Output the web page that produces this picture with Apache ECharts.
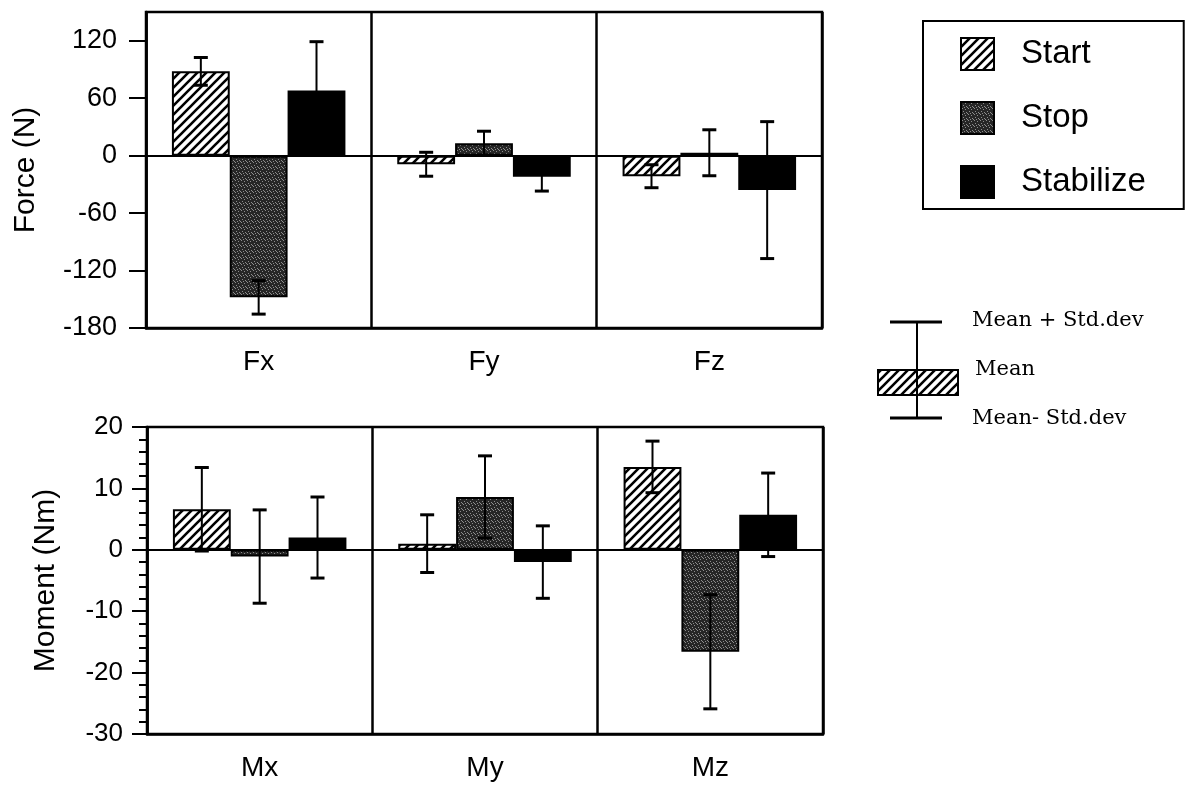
<!DOCTYPE html>
<html>
<head>
<meta charset="utf-8">
<script src="https://cdn.jsdelivr.net/npm/echarts@6/dist/echarts.min.js"></script>
<style>
  html, body { margin: 0; padding: 0; background: #fff; }
  #chart { width: 1193px; height: 793px; }
</style>
</head>
<body>
<div id="chart"></div>
<script>
// Categories, conditions and tick values
const forceCategories = ['Fx', 'Fy', 'Fz'];
const momentCategories = ['Mx', 'My', 'Mz'];
const conditions = ['Start', 'Stop', 'Stabilize'];
const forceTicks = [-180, -120, -60, 0, 60, 120];
const momentTicks = [-30, -20, -10, 0, 10, 20];

// Force components (N): mean and standard deviation per condition
const forceStartMean = [88, -9, -21.5];
const forceStartSd = [14.5, 12.5, 12];
const forceStopMean = [-148, 13, 3];
const forceStopSd = [17.5, 12.5, 24];
const forceStabilizeMean = [68, -22, -36];
const forceStabilizeSd = [51, 15, 71.5];

// Moment components (Nm): mean and standard deviation per condition
const momentStartMean = [6.6, 1, 13.5];
const momentStartSd = [6.8, 4.7, 4.2];
const momentStopMean = [-1.1, 8.6, -16.6];
const momentStopSd = [7.6, 6.7, 9.3];
const momentStabilizeMean = [2, -2, 5.7];
const momentStabilizeSd = [6.6, 5.9, 6.8];

const SANS = '"Liberation Sans", Arial, Helvetica, sans-serif';
const SERIF = '"DejaVu Serif", "Liberation Serif", serif';
const GAP = 0.23; // fraction of each category band left empty

// Diagonal hatch fill used for the Start condition
function hatchCanvas() {
  const s = 9;
  const c = document.createElement('canvas');
  c.width = s; c.height = s;
  const g = c.getContext('2d');
  g.fillStyle = '#fff';
  g.fillRect(0, 0, s, s);
  g.strokeStyle = '#000';
  g.lineWidth = 2.6;
  g.beginPath();
  g.moveTo(-2, s + 2); g.lineTo(s + 2, -2);
  g.moveTo(-2, 2); g.lineTo(2, -2);
  g.moveTo(s - 2, s + 2); g.lineTo(s + 2, s - 2);
  g.stroke();
  return c;
}

// Dark stippled fill used for the Stop condition
function stippleCanvas() {
  const s = 6;
  const c = document.createElement('canvas');
  c.width = s; c.height = s;
  const g = c.getContext('2d');
  g.fillStyle = '#262626';
  g.fillRect(0, 0, s, s);
  g.fillStyle = '#8c8c8c';
  [[1, 0], [4, 1], [2, 3], [5, 4], [0, 5], [3, 5]].forEach(function (p) {
    g.fillRect(p[0], p[1], 1, 1);
  });
  return c;
}

const hatchFill = { image: hatchCanvas(), repeat: 'repeat' };
const stippleFill = { image: stippleCanvas(), repeat: 'repeat' };
const fills = [hatchFill, stippleFill, '#000'];

function barSeries(name, means, axisIdx, slot, withZeroLine) {
  const s = {
    name: name,
    type: 'bar',
    xAxisIndex: axisIdx,
    yAxisIndex: axisIdx,
    data: means,
    barGap: '0%',
    barCategoryGap: (GAP * 100) + '%',
    itemStyle: { color: fills[slot], borderColor: '#000', borderWidth: 2 },
    emphasis: { disabled: true },
    silent: true,
    z: 2
  };
  if (withZeroLine) {
    s.markLine = {
      silent: true,
      symbol: ['none', 'none'],
      label: { show: false },
      lineStyle: { color: '#000', width: 2, type: 'solid' },
      data: [{ yAxis: 0 }]
    };
  }
  return s;
}

// I-beam error bars (mean +/- sd) centred on each bar of the group
function errorSeries(means, sds, axisIdx, slot) {
  return {
    type: 'custom',
    xAxisIndex: axisIdx,
    yAxisIndex: axisIdx,
    silent: true,
    z: 6,
    data: means.map(function (m, i) { return [i, m, sds[i]]; }),
    encode: { x: 0, y: 1 },
    renderItem: function (params, api) {
      const cat = api.value(0);
      const mean = api.value(1);
      const sd = api.value(2);
      const band = api.size([1, 0])[0];
      const bw = band * (1 - GAP) / 3;
      const x = api.coord([cat, 0])[0] + (slot - 1) * bw;
      const yHi = api.coord([cat, mean + sd])[1];
      const yLo = api.coord([cat, mean - sd])[1];
      const cap = 7;
      const stroke = { stroke: '#000', lineWidth: 2 };
      const capStroke = { stroke: '#000', lineWidth: 3 };
      return {
        type: 'group',
        children: [
          { type: 'line', shape: { x1: x, y1: yHi, x2: x, y2: yLo }, style: stroke },
          { type: 'line', shape: { x1: x - cap, y1: yHi, x2: x + cap, y2: yHi }, style: capStroke },
          { type: 'line', shape: { x1: x - cap, y1: yLo, x2: x + cap, y2: yLo }, style: capStroke }
        ]
      };
    }
  };
}

function categoryAxis(gridIndex, cats) {
  return {
    type: 'category',
    gridIndex: gridIndex,
    data: cats,
    position: 'bottom',
    axisLine: { show: true, onZero: false, lineStyle: { color: '#000', width: 2.5 } },
    axisTick: { show: false },
    axisLabel: { fontSize: 28, color: '#000', fontFamily: SANS, margin: 20 },
    splitLine: { show: true, lineStyle: { color: '#000', width: 2.5 } }
  };
}

const chart = echarts.init(document.getElementById('chart'), null, { renderer: 'canvas' });

chart.setOption({
  backgroundColor: '#fff',
  animation: false,
  grid: [
    { left: 146, top: 12, width: 676, height: 316, show: true, borderColor: '#000', borderWidth: 2.5 },
    { left: 147, top: 427, width: 676, height: 307, show: true, borderColor: '#000', borderWidth: 2.5 }
  ],
  xAxis: [categoryAxis(0, forceCategories), categoryAxis(1, momentCategories)],
  yAxis: [
    {
      type: 'value', gridIndex: 0, min: -180, max: 150,
      name: 'Force (N)', nameLocation: 'middle', nameGap: 105,
      nameTextStyle: { fontSize: 30, color: '#000', fontFamily: SANS },
      axisLine: { show: true, lineStyle: { color: '#000', width: 2.5 } },
      axisTick: { show: true, length: 17, customValues: forceTicks, lineStyle: { color: '#000', width: 2 } },
      axisLabel: { customValues: forceTicks, fontSize: 27, color: '#000', fontFamily: SANS, margin: 29 },
      splitLine: { show: false }
    },
    {
      type: 'value', gridIndex: 1, min: -30, max: 20, interval: 10,
      name: 'Moment (Nm)', nameLocation: 'middle', nameGap: 86,
      nameTextStyle: { fontSize: 30, color: '#000', fontFamily: SANS },
      axisLine: { show: true, lineStyle: { color: '#000', width: 2.5 } },
      axisTick: { show: true, length: 15, lineStyle: { color: '#000', width: 2 } },
      minorTick: { show: true, splitNumber: 5, length: 8, lineStyle: { color: '#000', width: 2 } },
      axisLabel: { fontSize: 26, color: '#000', fontFamily: SANS, margin: 24 },
      splitLine: { show: false }
    }
  ],
  legend: {
    data: conditions,
    orient: 'vertical',
    left: 923,
    top: 21,
    icon: 'rect',
    itemWidth: 33,
    itemHeight: 32,
    itemGap: 30,
    padding: [16, 38, 10, 37],
    borderColor: '#000',
    borderWidth: 2,
    selectedMode: false,
    textStyle: { fontSize: 33, color: '#000', fontFamily: SANS, padding: [0, 0, 0, 22] }
  },
  graphic: [
    { type: 'line', shape: { x1: 917, y1: 322, x2: 917, y2: 418 }, style: { stroke: '#000', lineWidth: 2 }, z: 10 },
    { type: 'line', shape: { x1: 890, y1: 322, x2: 942, y2: 322 }, style: { stroke: '#000', lineWidth: 3 }, z: 10 },
    { type: 'line', shape: { x1: 890, y1: 418, x2: 942, y2: 418 }, style: { stroke: '#000', lineWidth: 3 }, z: 10 },
    { type: 'rect', shape: { x: 878, y: 370, width: 80, height: 25 }, style: { fill: hatchFill, stroke: '#000', lineWidth: 2 }, z: 9 },
    { type: 'text', x: 972, y: 321, z: 10, style: { text: 'Mean + Std.dev', font: '21px ' + SERIF, fill: '#000', verticalAlign: 'middle' } },
    { type: 'text', x: 975, y: 370, z: 10, style: { text: 'Mean', font: '21px ' + SERIF, fill: '#000', verticalAlign: 'middle' } },
    { type: 'text', x: 972, y: 419, z: 10, style: { text: 'Mean- Std.dev', font: '21px ' + SERIF, fill: '#000', verticalAlign: 'middle' } }
  ],
  series: [
    barSeries('Start', forceStartMean, 0, 0, true),
    barSeries('Stop', forceStopMean, 0, 1, false),
    barSeries('Stabilize', forceStabilizeMean, 0, 2, false),
    errorSeries(forceStartMean, forceStartSd, 0, 0),
    errorSeries(forceStopMean, forceStopSd, 0, 1),
    errorSeries(forceStabilizeMean, forceStabilizeSd, 0, 2),
    barSeries('Start', momentStartMean, 1, 0, true),
    barSeries('Stop', momentStopMean, 1, 1, false),
    barSeries('Stabilize', momentStabilizeMean, 1, 2, false),
    errorSeries(momentStartMean, momentStartSd, 1, 0),
    errorSeries(momentStopMean, momentStopSd, 1, 1),
    errorSeries(momentStabilizeMean, momentStabilizeSd, 1, 2)
  ]
});
</script>
</body>
</html>
